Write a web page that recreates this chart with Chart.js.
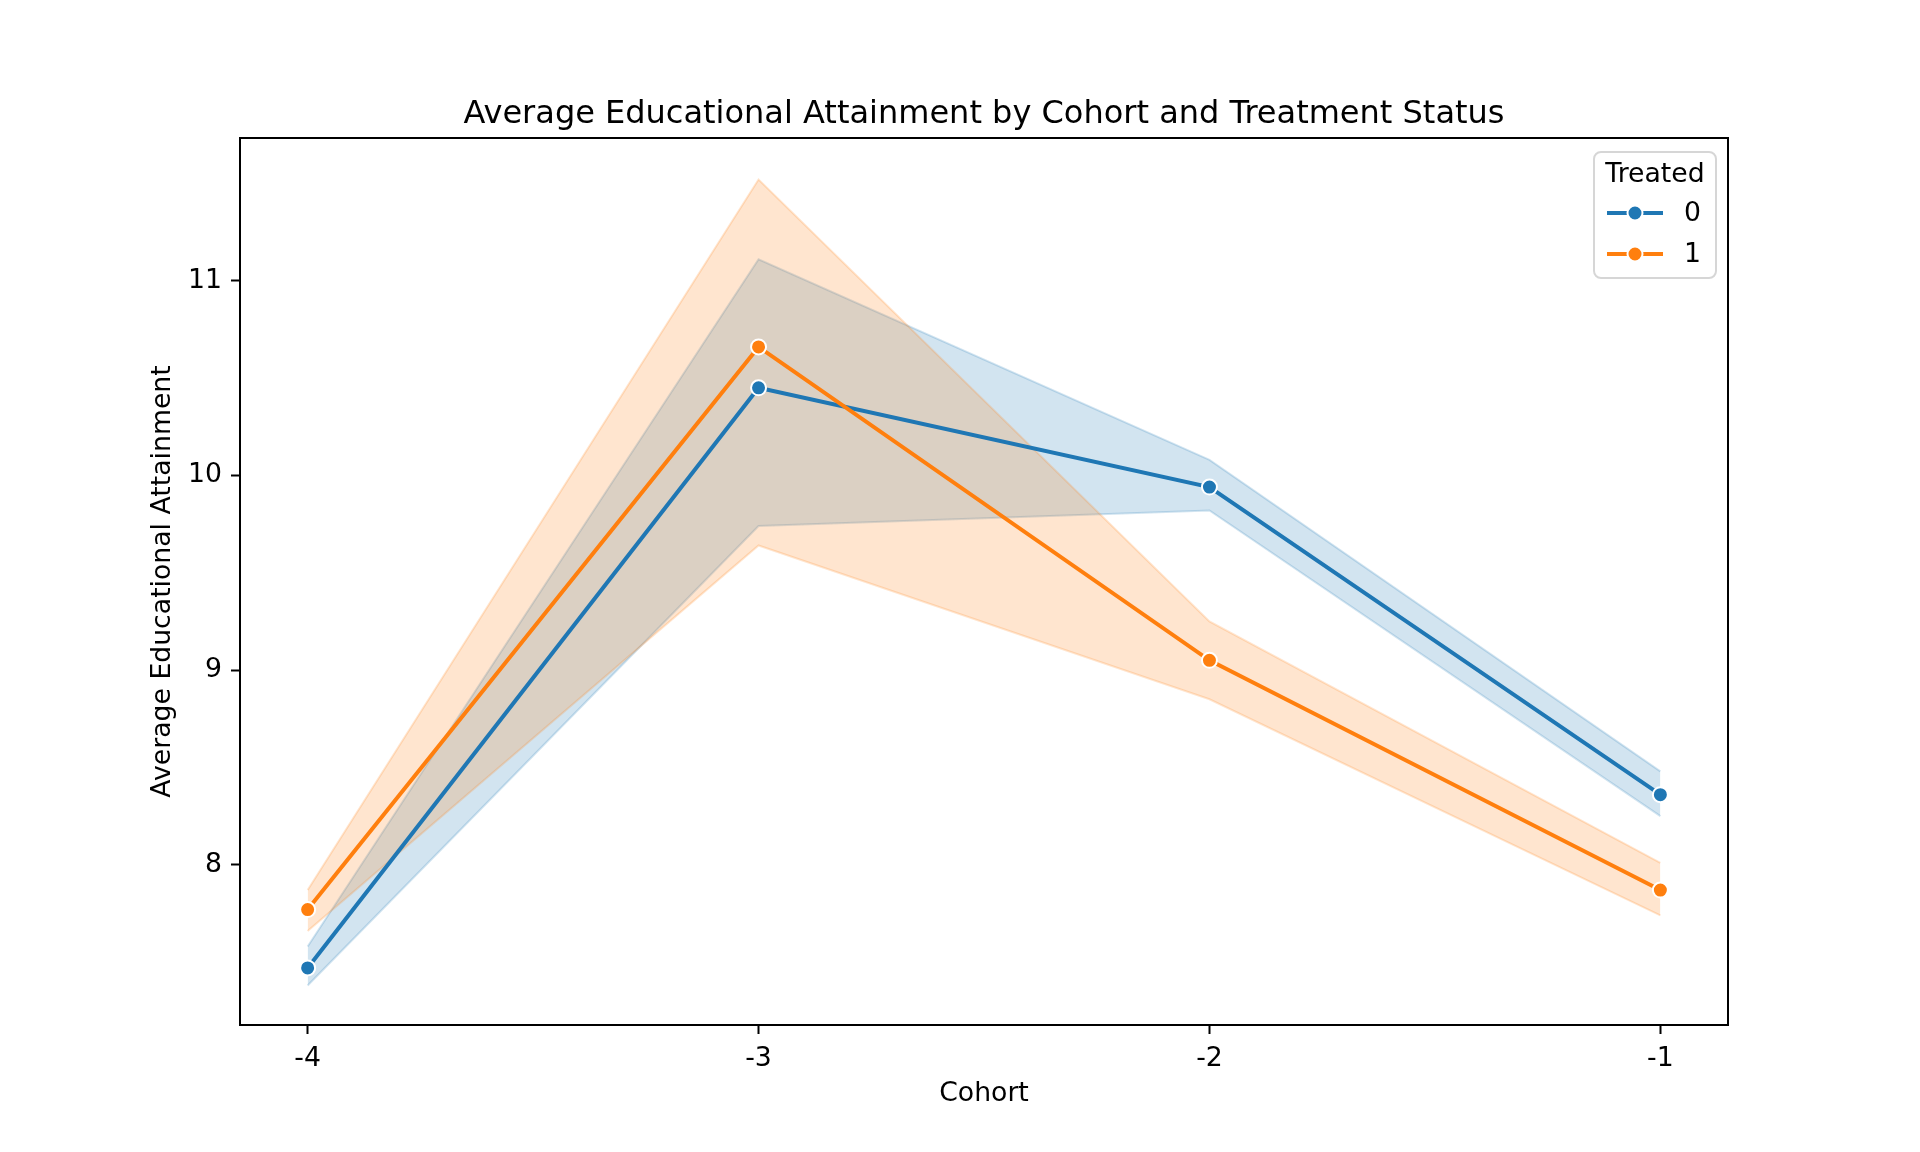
<!DOCTYPE html>
<html>
<head>
<meta charset="utf-8">
<script src="https://cdn.jsdelivr.net/npm/chart.js@4.4.1/dist/chart.umd.min.js"></script>
<style>
  html, body { margin: 0; padding: 0; background: #fff; }
  #wrap { width: 1920px; height: 1152px; }
</style>
</head>
<body>
<div id="wrap"><canvas id="grafico" width="1920" height="1152"></canvas></div>
<script>
// valores
const cohorts     = [-4, -3, -2, -1];
const control     = [7.47, 10.45, 9.94, 8.36];
const controlLow  = [7.38, 9.74, 9.82, 8.25];
const controlHigh = [7.58, 11.11, 10.08, 8.48];
const treated     = [7.77, 10.66, 9.05, 7.87];
const treatedLow  = [7.66, 9.64, 8.85, 7.74];
const treatedHigh = [7.87, 11.52, 9.25, 8.01];
const xTicks = [-4, -3, -2, -1];
const yTicks = [8, 9, 10, 11];

const TITLE   = 'Average Educational Attainment by Cohort and Treatment Status';
const FONT    = 'DejaVu Sans';
const BLUE    = '#1f77b4';
const ORANGE  = '#ff7f0e';
const BLUE_BAND   = 'rgba(31,119,180,0.2)';
const ORANGE_BAND = 'rgba(255,127,14,0.2)';

const pts = arr => cohorts.map((c, i) => ({ x: c, y: arr[i] }));

const band = (data, color, fill, order) => ({
    data: pts(data),
    borderColor: color,
    backgroundColor: color,
    borderWidth: 2,
    pointRadius: 0,
    fill: fill,
    order: order,
    tension: 0
});

const line = (data, color, order) => ({
    data: pts(data),
    borderColor: color,
    backgroundColor: color,
    borderWidth: 4,
    pointRadius: 7.5,
    pointBorderColor: '#fff',
    pointBorderWidth: 2,
    pointBackgroundColor: color,
    fill: false,
    order: order,
    tension: 0
});

// caixa dos eixos, título e legenda (estilo matplotlib)
const moldura = {
    id: 'moldura',
    afterDatasetsDraw(chart) {
        const { ctx, chartArea: a } = chart;
        ctx.save();
        ctx.strokeStyle = '#000';
        ctx.lineWidth = 2;
        ctx.strokeRect(a.left, a.top, a.right - a.left, a.bottom - a.top);

        ctx.fillStyle = '#000';
        ctx.font = '32px "' + FONT + '"';
        ctx.textAlign = 'center';
        ctx.textBaseline = 'middle';
        ctx.fillText(TITLE, (a.left + a.right) / 2, 115);

        // legenda
        const lx = 1594, ly = 152, lw = 122, lh = 126, r = 7;
        ctx.beginPath();
        ctx.roundRect(lx, ly, lw, lh, r);
        ctx.fillStyle = 'rgba(255,255,255,0.8)';
        ctx.fill();
        ctx.strokeStyle = 'rgba(204,204,204,0.8)';
        ctx.lineWidth = 2;
        ctx.stroke();

        ctx.fillStyle = '#000';
        ctx.font = '26.7px "' + FONT + '"';
        ctx.textAlign = 'center';
        ctx.fillText('Treated', lx + lw / 2, 175);

        const itens = [['0', BLUE, 213], ['1', ORANGE, 254]];
        itens.forEach(([txt, cor, y]) => {
            ctx.strokeStyle = cor;
            ctx.lineWidth = 4;
            ctx.beginPath();
            ctx.moveTo(1607, y);
            ctx.lineTo(1663, y);
            ctx.stroke();
            ctx.beginPath();
            ctx.arc(1635, y, 7.5, 0, Math.PI * 2);
            ctx.fillStyle = cor;
            ctx.fill();
            ctx.strokeStyle = '#fff';
            ctx.lineWidth = 2;
            ctx.stroke();
            ctx.fillStyle = '#000';
            ctx.textAlign = 'left';
            ctx.fillText(txt, 1684, y + 1);
        });
        ctx.restore();
    }
};

const ctx = document.getElementById('grafico').getContext('2d');

new Chart(ctx, {
    type: 'line',
    data: {
        datasets: [
            band(controlLow,  BLUE_BAND,   false, 6),
            band(controlHigh, BLUE_BAND,   { target: 0 }, 5),
            band(treatedLow,  ORANGE_BAND, false, 4),
            band(treatedHigh, ORANGE_BAND, { target: 2 }, 3),
            line(control, BLUE, 2),
            line(treated, ORANGE, 1)
        ]
    },
    plugins: [moldura],
    options: {
        responsive: false,
        devicePixelRatio: 1,
        animation: false,
        layout: { padding: { left: 0, right: 192, top: 138, bottom: 0 } },
        plugins: {
            legend: { display: false },
            title: { display: false },
            tooltip: { enabled: false },
            filler: { propagate: false }
        },
        scales: {
            x: {
                type: 'linear',
                min: -4.15,
                max: -0.85,
                afterBuildTicks: s => { s.ticks = xTicks.map(v => ({ value: v })); },
                afterFit: s => { s.height = 127; },
                border: { display: false },
                grid: { drawOnChartArea: false, drawTicks: true, tickLength: 9, tickWidth: 2, tickColor: '#000' },
                ticks: { color: '#000', padding: 9, font: { family: FONT, size: 26.7 }, callback: v => String(v) },
                title: { display: true, text: 'Cohort', color: '#000', font: { family: FONT, size: 26.7 }, padding: { top: 0, bottom: 42 } }
            },
            y: {
                min: 7.177,
                max: 11.733,
                afterBuildTicks: s => { s.ticks = yTicks.map(v => ({ value: v })); },
                afterFit: s => { s.width = 240; },
                border: { display: false },
                grid: { drawOnChartArea: false, drawTicks: true, tickLength: 9, tickWidth: 2, tickColor: '#000' },
                ticks: { color: '#000', padding: 9, font: { family: FONT, size: 26.7 }, callback: v => String(v) },
                title: { display: true, text: 'Average Educational Attainment', color: '#000', font: { family: FONT, size: 26.7 }, padding: { top: 147, bottom: 0 } }
            }
        }
    }
});
</script>
</body>
</html>
